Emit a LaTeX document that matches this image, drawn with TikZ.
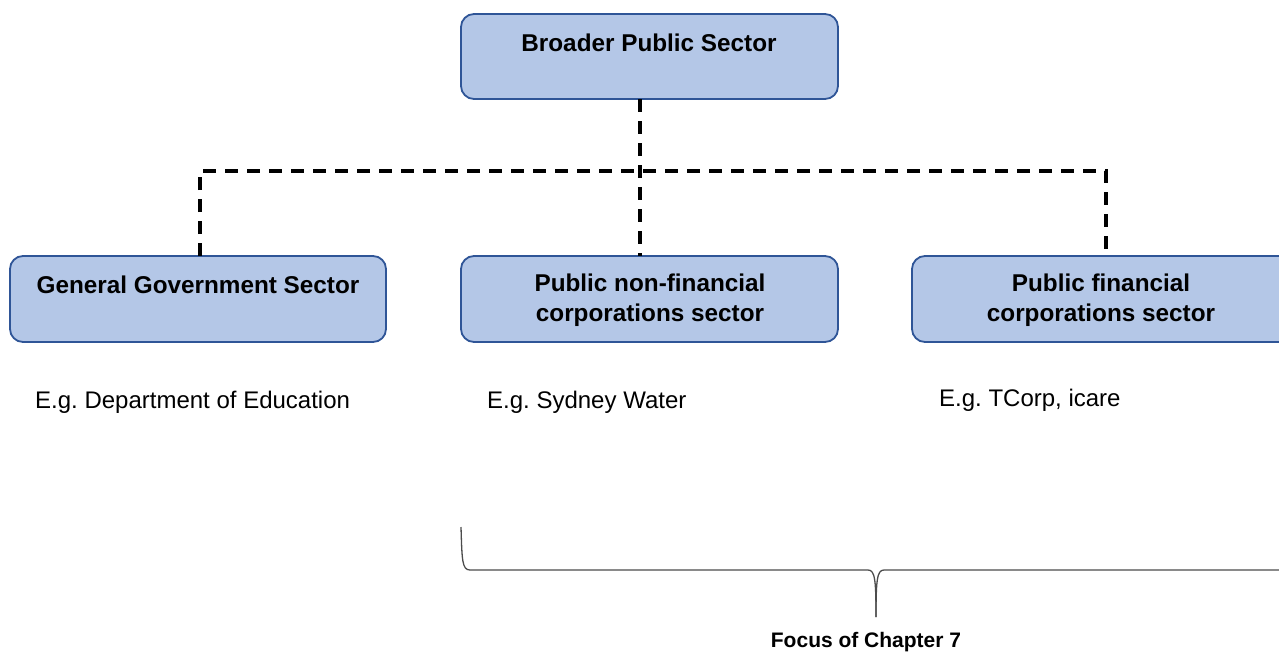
\documentclass[tikz,border=0pt]{standalone}
\usepackage{fontspec}
\setmainfont{Liberation Sans}
\definecolor{boxfill}{HTML}{B4C7E7}
\definecolor{boxdraw}{HTML}{2F5597}
\frenchspacing
\begin{document}
\begin{tikzpicture}[x=1pt,y=-1pt,
  sector/.style={draw=boxdraw,fill=boxfill,line width=1.8pt,rounded corners=13pt},
  btitle/.style={font=\fontsize{24.3}{30}\selectfont\bfseries,align=center,inner sep=0pt},
  egtext/.style={font=\fontsize{24}{26}\selectfont,anchor=base west,inner sep=0pt},
  link/.style={line width=3.4pt,dash pattern=on 13pt off 9pt}]
\useasboundingbox (0,0) rectangle (1279,653);
\clip (0,0) rectangle (1279,653);
% boxes
\draw[sector] (461,14) rectangle (838,99);
\coordinate (bpsB) at (640,99);
\node[btitle] (bps) at (649,43) {Broader Public Sector};
\draw[sector] (10,256) rectangle (386,342);
\coordinate (ggT) at (200,256);
\node[btitle] (gg) at (198,285) {General Government Sector};
\draw[sector] (461,256) rectangle (838,342);
\coordinate (pnT) at (640,256);
\node[btitle] (pn) at (650,300) {Public non-financial\\corporations sector};
\draw[sector] (912,256) rectangle (1292,342);
\coordinate (pfT) at (1106,256);
\node[btitle] (pf) at (1101,300) {Public financial\\corporations sector};
% connectors
\draw[link] (bpsB) -- (pnT);
\draw[link] (ggT) -- (200,171) -- (1106,171) -- (pfT);
% examples
\node[egtext] (eg1) at (35,408) {E.g. Department of Education};
\node[egtext] (eg2) at (487,408) {E.g. Sydney Water};
\node[egtext] (eg3) at (939,406) {E.g. TCorp,\ icare};
% brace
\draw[line width=1.3pt,black!70] (461,527) .. controls (462,560) and (462,570) .. (470,570)
  -- (868,570) .. controls (875,570) and (876,580) .. (876,617);
\draw[line width=1.3pt,black!70] (876,617) .. controls (876,580) and (877,570) .. (884,570) -- (1300,570);
\node[font=\fontsize{21}{24}\selectfont\bfseries,inner sep=0pt] (focus) at (866,642) {Focus of Chapter 7};
\end{tikzpicture}
\end{document}
